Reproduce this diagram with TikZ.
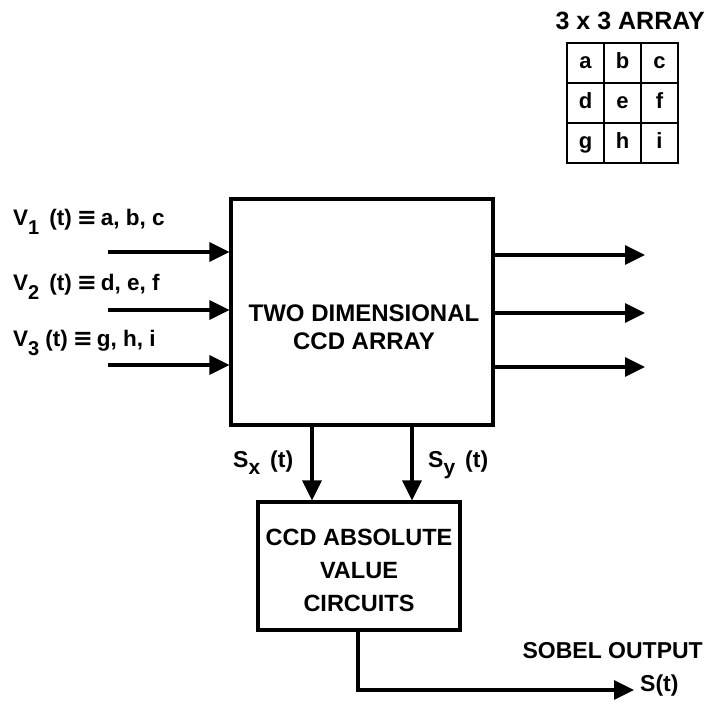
\documentclass[tikz,border=0pt]{standalone}
\usepackage{fontspec}
\setmainfont{Liberation Sans}
\newfontfamily\symfont{DejaVu Sans}
\usetikzlibrary{arrows.meta}
\tikzset{
  lbl/.style={font=\bfseries\fontsize{23}{27}\selectfont, inner sep=0pt},
  vlbl/.style={font=\bfseries\fontsize{22.5}{27}\selectfont, inner sep=0pt, anchor=base west},
  boxtxt/.style={font=\bfseries\fontsize{24}{28}\selectfont, align=center},
  blk/.style={draw, line width=3.1pt, inner sep=0pt},
  cell/.style={draw, line width=2.8pt, minimum width=37pt, minimum height=40pt, inner sep=0pt,
    text height=15pt, text depth=4pt, font=\bfseries\fontsize{22}{26}\selectfont},
  conn/.style={line width=3.1pt, -{Triangle[length=20pt,width=19pt]}},
}
\newcommand{\vsub}[1]{V\raisebox{-9pt}{\fontsize{20}{22}\selectfont #1}}
\newcommand{\ssub}[1]{S\raisebox{-7pt}{\fontsize{21}{23}\selectfont #1}}
\newcommand{\eqv}{\hspace{5pt}{\symfont\fontsize{24}{26}\selectfont ≡}\hspace{4pt}}
\begin{document}
\begin{tikzpicture}[x=1pt,y=-1pt]
\useasboundingbox (0,0) rectangle (706,707);
% main box
\node[blk, minimum width=262pt, minimum height=226pt] (main) at (362,312) {};
\node[boxtxt] (maintxt) at (364,327) {TWO DIMENSIONAL\\CCD ARRAY};
% lower box
\node[blk, minimum width=202pt, minimum height=128pt] (abs) at (359,566) {};
\node[boxtxt, font=\bfseries\fontsize{23.5}{33}\selectfont] (abstxt) at (359,570) {CCD ABSOLUTE\\VALUE\\CIRCUITS};
% inputs
\coordinate (in1) at (108,252);
\coordinate (in2) at (108,310);
\coordinate (in3) at (108,365);
\draw[conn] (in1) -- (main.west |- in1);
\draw[conn] (in2) -- (main.west |- in2);
\draw[conn] (in3) -- (main.west |- in3);
\node[vlbl] (v1) at (13,225) {\vsub{1}\hspace{10pt}(t)\eqv a, b, c};
\node[vlbl] (v2) at (13,290) {\vsub{2}\hspace{10pt}(t)\eqv d, e, f};
\node[vlbl] (v3) at (13,346) {\vsub{3}\hspace{6pt}(t)\eqv g, h, i};
% outputs
\coordinate (out1) at (645,255);
\coordinate (out2) at (645,313);
\coordinate (out3) at (645,367);
\draw[conn] (main.east |- out1) -- (out1);
\draw[conn] (main.east |- out2) -- (out2);
\draw[conn] (main.east |- out3) -- (out3);
% down arrows
\coordinate (sx) at (312,0);
\coordinate (sy) at (412,0);
\draw[conn] (main.south -| sx) -- (abs.north -| sx);
\draw[conn] (main.south -| sy) -- (abs.north -| sy);
\node[vlbl, font=\bfseries\fontsize{23}{27}\selectfont] (sxl) at (233,467) {\ssub{x}\hspace{10pt}(t)};
\node[vlbl, font=\bfseries\fontsize{23}{27}\selectfont] (syl) at (428,467) {\ssub{y}\hspace{10pt}(t)};
% output
\coordinate (so) at (358,0);
\coordinate (send) at (634,690);
\draw[conn] (abs.south -| so) |- (send);
\node[lbl, anchor=east] (sob) at (703,651) {SOBEL OUTPUT};
\node[lbl, anchor=west] (st) at (640,686) {S(t)};
% array
\node[lbl, anchor=east, font=\bfseries\fontsize{25}{29}\selectfont] (arrt) at (705,21) {3 x 3 ARRAY};
\foreach \l/\c/\r in {a/0/0,b/1/0,c/2/0,d/0/1,e/1/1,f/2/1,g/0/2,h/1/2,i/2/2}{
  \node[cell] (cell\l) at ({585.5+37*\c},{63+40*\r}) {\l};
}
\end{tikzpicture}
\end{document}
